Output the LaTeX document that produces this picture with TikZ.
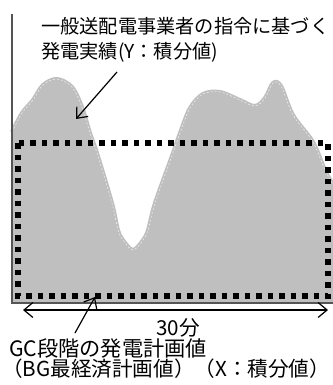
\documentclass[tikz,border=0pt]{standalone}
\usepackage{fontspec}
\usepackage{tikz}
\usetikzlibrary{arrows.meta}
\setmainfont{Noto Sans CJK JP}
\definecolor{areagray}{RGB}{191,191,191}
\definecolor{axisgray}{RGB}{85,85,85}
% #1 = what comes before the curve, #2 = what comes after it
\newcommand{\actcurve}[2]{#1 plot[smooth,tension=0.55] coordinates {(12,132) (22,113) (33,100) (43,85) (57,79) (72,87) (82,107) (90,133) (97,153) (112,203) (118,230) (123,240) (133,250) (143,240) (148,230) (155,203) (173,153) (180,133) (190,108) (203,94) (220,92) (240,100) (255,106) (265,98) (273,83) (281,86) (293,115) (313,142) (325,170) (334,186)} #2}
\tikzset{
  barb/.style={-{Straight Barb[length=9pt,width=15pt]}, line width=1.2pt},
  planbox/.style={line width=5.5pt, dash pattern=on 5.5pt off 6pt},
  toplabel/.style={inner sep=0pt, anchor=base west, font=\fontsize{19.2}{24}\selectfont},
  lowlabel/.style={inner sep=0pt, anchor=base west, font=\fontsize{21.2}{24}\selectfont}
}

\begin{document}
\begin{tikzpicture}[x=1pt,y=-1pt]
    \useasboundingbox (0,0) rectangle (332,385);
    % generation output (area)
    \actcurve{\fill[areagray] (12,303) --}{-- (334,303) -- cycle;}
    \actcurve{\draw[areagray, line width=4pt]}{;}
    \actcurve{\draw[white!70!areagray, line width=0.6pt, dash pattern=on 2pt off 2pt]}{;}
    % plan value (box)
    \draw[planbox] (18,143) rectangle (328,296);
    % axes
    \draw[axisgray, line width=1.5pt] (12,14) -- (12,303) -- (334,303);
    % labels
    \node[toplabel] (actline1) at (41,33.5) {一般送配電事業者の指令に基づく};
    \node[toplabel] (actline2) at (41,58.5) {発電実績(Y：積分値)};
    \coordinate (acttail) at (117,72);
    \coordinate (acttip) at (76,119);
    \draw[barb] (acttail) -- (acttip);
    % 30 minutes
    \coordinate (spanl) at (23,310);
    \coordinate (spanr) at (328,310);
    \draw[{Straight Barb[length=9pt,width=15pt]}-{Straight Barb[length=9pt,width=15pt]}, line width=1.2pt] (spanl) -- (spanr);
    \node[lowlabel, anchor=base, font=\fontsize{20.6}{24}\selectfont] (spanlabel) at (178,335) {30分};
    \node[lowlabel] (planline1) at (9,356) {GC段階の発電計画値};
    \node[lowlabel, font=\fontsize{20.6}{24}\selectfont] (planline2) at (2,376) {（BG最経済計画値）（X：積分値）};
    \coordinate (plantail) at (75,333);
    \coordinate (plantip) at (95,297);
    \draw[barb] (plantail) -- (plantip);
\end{tikzpicture}
\end{document}
